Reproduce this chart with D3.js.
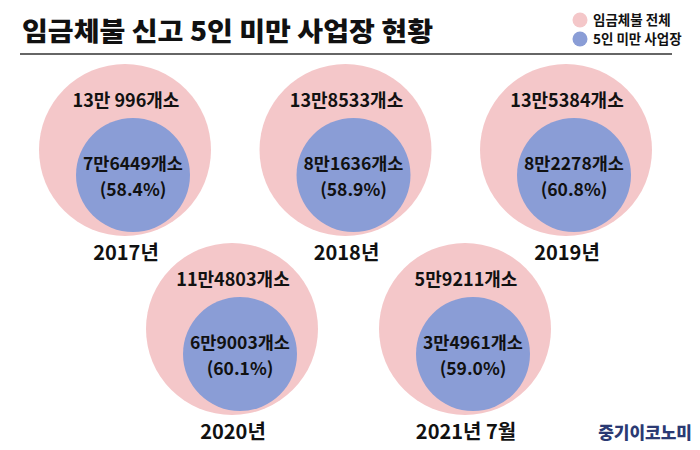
<!DOCTYPE html>
<html><head><meta charset="utf-8">
<script src="https://cdn.jsdelivr.net/npm/d3@7"></script>
<style>body{margin:0;background:#fff}svg{display:block}text{font-family:"Noto Sans CJK KR","Noto Sans",sans-serif}</style>
</head><body>
<svg id="c" width="700" height="450"></svg>
<script>
const title = "임금체불 신고 5인 미만 사업장 현황";
const legendLabels = ["임금체불 전체", "5인 미만 사업장"];
const periods = ["2017년", "2018년", "2019년", "2020년", "2021년 7월"];
const totalCases = [130996, 138533, 135384, 114803, 59211];
const smallCases = [76449, 81636, 82278, 69003, 34961];
const smallShare = [58.4, 58.9, 60.8, 60.1, 59.0];
const source = "중기이코노미";

const pink = "#f4c7c9", blue = "#8a9dd6";
const svg = d3.select("#c");

function fmt(v){
  const man = Math.floor(v/10000), rest = v % 10000;
  return man + "만" + (rest < 1000 ? " " : "") + rest + "개소";
}

// title
svg.append("text").attr("x", 22).attr("y", 41).attr("font-size", 26).attr("font-weight", 900)
  .attr("textLength", 411).attr("lengthAdjust", "spacingAndGlyphs")
  .attr("fill", "#111").text(title);
svg.append("line").attr("x1", 20).attr("x2", 672).attr("y1", 54).attr("y2", 54)
  .attr("stroke", "#666").attr("stroke-width", 2);

// legend
const leg = svg.append("g");
[pink, blue].forEach((c, i) => {
  leg.append("circle").attr("cx", 580).attr("cy", 20 + i*19).attr("r", 7.5).attr("fill", c);
  leg.append("text").attr("x", 593).attr("y", 20 + i*19).attr("dy", "0.35em")
    .attr("font-size", 13.5).attr("font-weight", 700).attr("fill", "#111").text(legendLabels[i]);
});

// layout
const rowY = d3.scalePoint().domain([0, 1]).range([150, 329]);
const colTop = d3.scalePoint().domain([0, 1, 2]).range([125, 566]);
const colBot = d3.scalePoint().domain([0, 1]).range([232, 465]);
const rOuter = 86, rInner = 57;

const items = periods.map((p, i) => {
  const row = i < 3 ? 0 : 1;
  const cx = row === 0 ? colTop(i) : colBot(i - 3);
  return {p, total: totalCases[i], small: smallCases[i], share: smallShare[i], cx, cy: rowY(row)};
});

const g = svg.selectAll("g.item").data(items).join("g").attr("class", "item")
  .attr("transform", d => `translate(${d.cx},${d.cy})`);
g.append("circle").attr("r", rOuter).attr("fill", pink);
g.append("circle").attr("cx", 8).attr("cy", 25).attr("r", rInner).attr("fill", blue);
g.append("text").attr("x", 1).attr("y", -49).attr("dy", "0.35em").attr("text-anchor", "middle")
  .attr("font-size", 18).attr("font-weight", 700).attr("fill", "#111").text(d => fmt(d.total));
g.append("text").attr("x", 8).attr("y", 14).attr("dy", "0.35em").attr("text-anchor", "middle")
  .attr("font-size", 17.5).attr("font-weight", 700).attr("fill", "#111").text(d => fmt(d.small));
g.append("text").attr("x", 8).attr("y", 40).attr("dy", "0.35em").attr("text-anchor", "middle")
  .attr("font-size", 17.5).attr("font-weight", 700).attr("fill", "#111").text(d => "(" + d.share.toFixed(1) + "%)");
g.append("text").attr("x", 1).attr("y", 103).attr("dy", "0.35em").attr("text-anchor", "middle")
  .attr("font-size", 20).attr("font-weight", 700).attr("fill", "#111").text(d => d.p);

svg.append("text").attr("x", 692).attr("y", 433).attr("dy", "0.35em").attr("text-anchor", "end")
  .attr("font-size", 17).attr("font-weight", 900).attr("fill", "#2b3a73").text(source);
</script>
</body></html>
